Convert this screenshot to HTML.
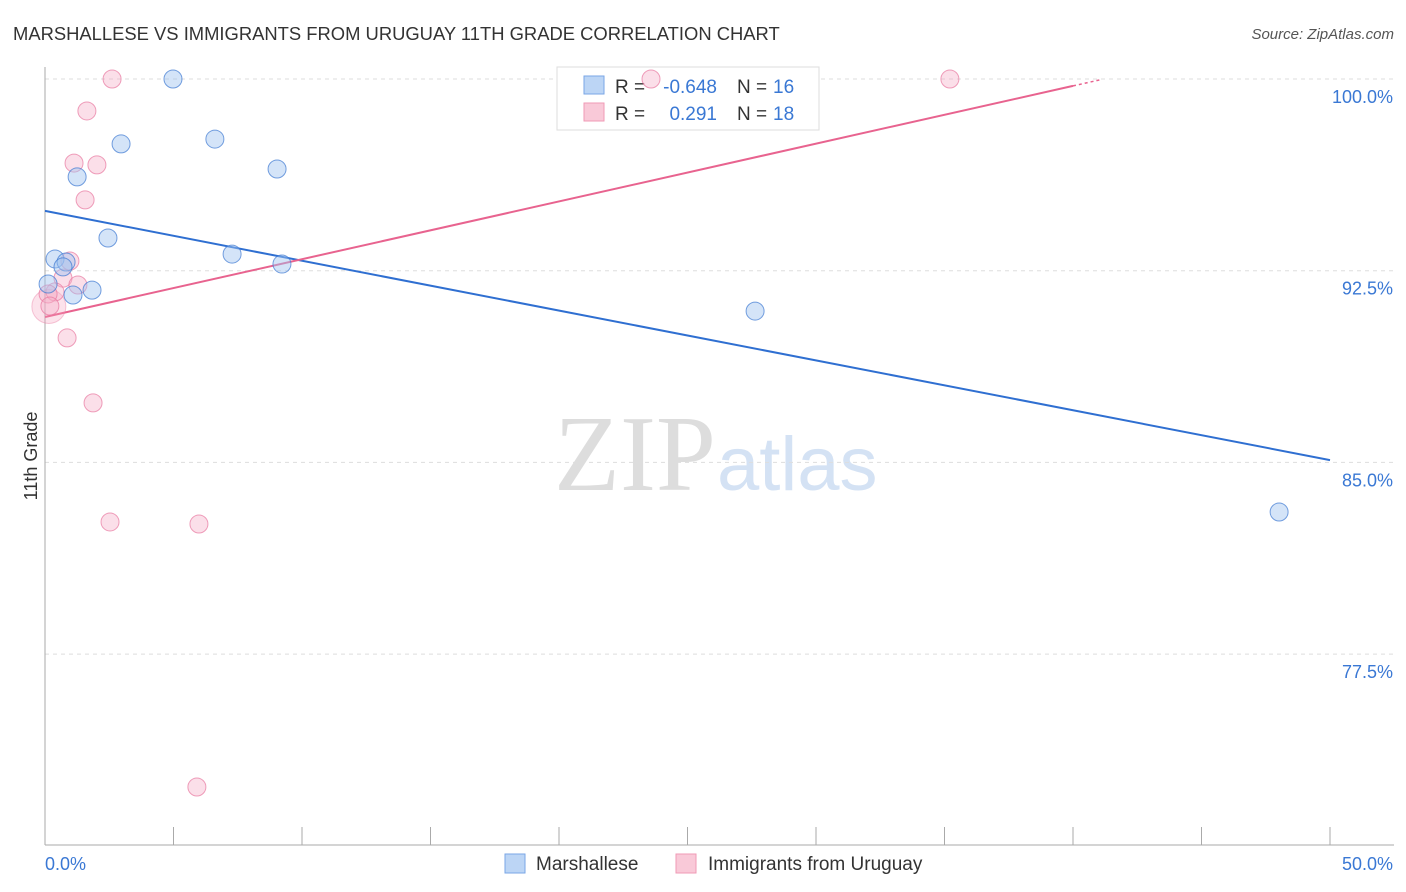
<!DOCTYPE html>
<html><head><meta charset="utf-8"><style>
body{margin:0;background:#fff;font-family:"Liberation Sans",sans-serif;}
svg{display:block}
</style></head><body>
<svg id="chart" width="1406" height="892">
<text x="13" y="40" font-size="18.4" fill="#333">MARSHALLESE VS IMMIGRANTS FROM URUGUAY 11TH GRADE CORRELATION CHART</text>
<text x="1394" y="39" font-size="15" fill="#555" font-style="italic" text-anchor="end">Source: ZipAtlas.com</text>
<text x="37" y="456" font-size="18" fill="#333" transform="rotate(-90 37 456)" text-anchor="middle">11th Grade</text>
<text x="716" y="490" font-size="108" fill="#ddd" text-anchor="end" font-family="Liberation Serif,serif">ZIP</text>
<text x="717" y="490" font-size="76" fill="#d4e2f4">atlas</text>
<g id="grid"></g><g id="axes"></g><g id="lines"></g>
<g>
<rect x="557" y="67" width="262" height="63" fill="#fff" stroke="#ddd"/>
<rect x="584" y="76" width="20" height="18" fill="#bcd5f5" stroke="#7aa6e6"/>
<rect x="584" y="103" width="20" height="18" fill="#f9c9d8" stroke="#f09ab6"/>
<text x="615" y="93" font-size="19" fill="#333">R = </text><text x="717" y="93" font-size="19" fill="#3a78d4" text-anchor="end">-0.648</text>
<text x="737" y="93" font-size="19" fill="#333">N = </text><text x="773" y="93" font-size="19" fill="#3a78d4">16</text>
<text x="615" y="120" font-size="19" fill="#333">R = </text><text x="717" y="120" font-size="19" fill="#3a78d4" text-anchor="end">0.291</text>
<text x="737" y="120" font-size="19" fill="#333">N = </text><text x="773" y="120" font-size="19" fill="#3a78d4">18</text>
</g>
<g id="pts"></g>
<g>
<rect x="505" y="854" width="20" height="19" fill="#bcd5f5" stroke="#7aa6e6"/>
<text x="536" y="870" font-size="19" fill="#333">Marshallese</text>
<rect x="676" y="854" width="20" height="19" fill="#f9c9d8" stroke="#f09ab6"/>
<text x="708" y="870" font-size="19" fill="#333">Immigrants from Uruguay</text>
</g>
</svg>
<script>
const yTicks=[100,92.5,85,77.5];
const yTickLabels=["100.0%","92.5%","85.0%","77.5%"];
const xTickLabels=["0.0%","50.0%"];
const blueX=[4.98,2.96,6.61,9.03,1.25,2.45,0.39,7.28,0.82,0.70,9.22,1.83,1.09,0.12,27.63,48.02];
const blueY=[100,97.46,97.65,96.48,96.17,93.78,92.96,93.15,92.84,92.65,92.76,91.74,91.55,91.98,90.92,83.06];
const pinkX=[2.61,23.58,35.21,1.63,1.13,2.02,1.56,0.97,0.70,1.28,0.39,0.12,0.19,0.86,1.87,2.53,5.99,5.91];
const pinkY=[100,100,100,98.75,96.71,96.64,95.27,92.88,92.21,91.94,91.67,91.59,91.12,89.87,87.33,82.67,82.59,72.30];
const blueTrend=[94.84,85.09]; // y at x=0 and x=50
const pinkTrend=[90.69,99.73]; // y at x=0 and x=40
const NS="http://www.w3.org/2000/svg";
const X=v=>45+v/50*1285, Y=v=>79+(100-v)/7.5*191.7;
function mk(tag,attrs,parent){const e=document.createElementNS(NS,tag);for(const k in attrs)e.setAttribute(k,attrs[k]);document.getElementById(parent).appendChild(e);return e;}
yTicks.forEach((t,i)=>{
 const l=mk('line',{x1:45,x2:1394,y1:Y(t),y2:Y(t),stroke:'#ddd','stroke-dasharray':'4,4'},'grid');
 
 
 const tx=mk('text',{x:1393,y:Y(t)+24,'font-size':18,fill:'#3a78d4','text-anchor':'end'},'grid');
 tx.textContent=yTickLabels[i];
 
 
});
const ax=mk('line',{x1:45,x2:45,y1:67,y2:845,stroke:'#aaa'},'axes');


const bx=mk('line',{x1:45,x2:1394,y1:845,y2:845,stroke:'#aaa'},'axes');


for(let i=0;i<=10;i++){const t=mk('line',{x1:X(i*5),x2:X(i*5),y1:827,y2:845,stroke:'#aaa'},'axes');
 
 }
xTickLabels.forEach((s,i)=>{const t=mk('text',{x:i?1393:45,y:870,'font-size':18,fill:'#3a78d4','text-anchor':i?'end':'start'},'axes');t.textContent=s;
 
 });
const bl=mk('line',{x1:X(0),y1:Y(blueTrend[0]),x2:X(50),y2:Y(blueTrend[1]),stroke:'#2f6fd1','stroke-width':2},'lines');


const pl=mk('line',{x1:X(0),y1:Y(pinkTrend[0]),x2:X(40),y2:Y(pinkTrend[1]),stroke:'#e8638f','stroke-width':2},'lines');


const s=(pinkTrend[1]-pinkTrend[0])/40;
const pd=mk('line',{x1:X(40),y1:Y(pinkTrend[1]),x2:X(41.1),y2:Y(pinkTrend[1]+s*1.1),stroke:'#e8638f','stroke-width':1.5,'stroke-dasharray':'3,3'},'lines');


const big=mk('circle',{cx:X(0.15),cy:Y(91.1),r:17,fill:'rgba(244,160,190,0.3)',stroke:'rgba(232,120,160,0.4)'},'pts');


pinkX.forEach((x,i)=>{const c=mk('circle',{cx:X(x),cy:Y(pinkY[i]),r:9,fill:'rgba(246,176,200,0.4)',stroke:'rgba(232,120,160,0.7)'},'pts');
 
 });
blueX.forEach((x,i)=>{const c=mk('circle',{cx:X(x),cy:Y(blueY[i]),r:9,fill:'rgba(160,195,240,0.45)',stroke:'rgba(60,120,210,0.7)'},'pts');
 
 });
</script>
</body></html>
